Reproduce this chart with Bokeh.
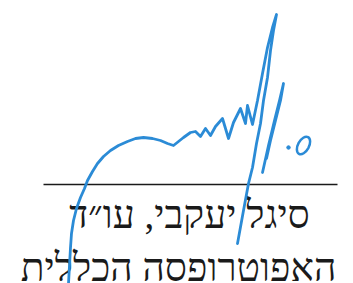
from bokeh.plotting import figure
from bokeh.models import Range1d
from bokeh.core.properties import value
from bokeh.embed import file_html
from bokeh.resources import INLINE

# Signature stroke (reference pixel coordinates, y downward)
stroke1_x = [68, 69, 70, 71, 73, 76, 80, 84, 87, 92, 97, 103, 110, 118, 127, 135, 143, 152, 160, 167, 173,
             178, 183, 190, 195, 200, 205, 210, 215, 222, 228, 233, 240, 245, 247, 252,
             257, 262, 267, 272, 276, 273, 270, 267, 263, 260, 256, 252, 248, 243, 237]
stroke1_y = [283, 265, 247, 233, 220, 208, 197, 188, 180, 171, 163, 156, 150, 145, 141, 138, 137, 138, 140, 143, 145,
             141, 137, 132, 131, 136, 128, 135, 126, 118, 138, 122, 108, 123, 105, 124,
             100, 73, 47, 27, 14, 30, 50, 77, 100, 123, 143, 167, 183, 210, 243]
stroke2_x = [262, 268, 274, 279, 283, 280, 275, 270, 266]
stroke2_y = [172, 145, 120, 100, 83, 100, 120, 140, 158]
dot_x = [288]
dot_y = [147]
o_x = [303]
o_y = [145]

# Signature line and caption
rule_x = [43, 337]
rule_y = [184, 184]
name_text = ["סיגל יעקבי, עו״ד"]
title_text = ["האפוטרופסה הכללית"]

W, H = 353, 283
p = figure(width=W, height=H, output_backend="svg", toolbar_location=None,
           x_range=Range1d(0, W), y_range=Range1d(H, 0), min_border=0)
p.axis.visible = False
p.grid.visible = False
p.outline_line_color = None
p.background_fill_color = "white"
p.border_fill_color = "white"

blue = "#2b8bd6"
p.line(rule_x, rule_y, line_color="#1a1a1a", line_width=1.5)

p.text(x=[189], y=[214], text=name_text, text_align="center", text_baseline="alphabetic",
       text_font=value("Liberation Serif"), text_font_size="39px", text_color="#1a1a1a")
p.text(x=[178], y=[267], text=title_text, text_align="center", text_baseline="alphabetic",
       text_font=value("Liberation Serif"), text_font_size="39px", text_color="#1a1a1a")

p.line(stroke1_x, stroke1_y, line_color=blue, line_width=2.8, line_join="round", line_cap="round")
p.line(stroke2_x, stroke2_y, line_color=blue, line_width=2.8, line_join="round", line_cap="round")
p.scatter(dot_x, dot_y, size=3.5, color=blue)
p.ellipse(x=o_x, y=o_y, width=11, height=19, angle=-0.5, fill_color=None,
          line_color=blue, line_width=2.5)

open("out.html", "w").write(file_html(p, INLINE))
